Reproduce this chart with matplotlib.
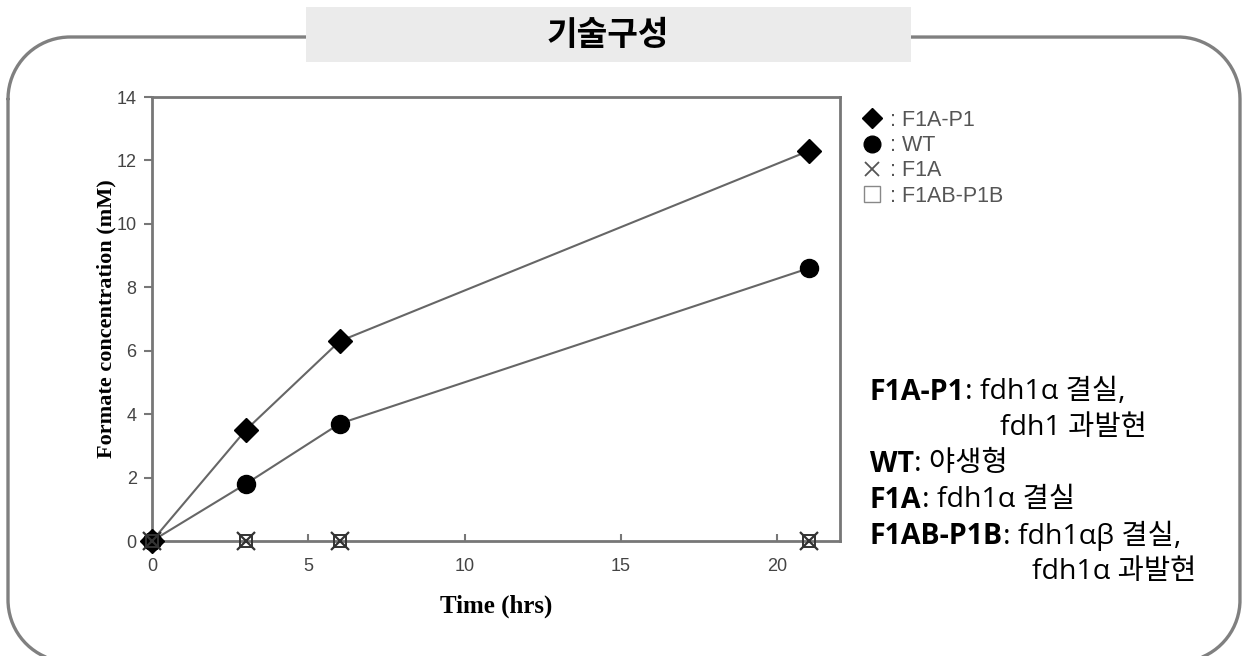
import matplotlib
matplotlib.use("Agg")
import matplotlib.pyplot as plt
import numpy as np
from matplotlib.lines import Line2D
from matplotlib.patches import Rectangle

# data
time_hrs = [0, 3, 6, 21]
f1a_p1 = [0, 3.5, 6.3, 12.3]
wt = [0, 1.8, 3.7, 8.6]
f1a = [0, 0, 0, 0]
f1ab_p1b = [0, 0, 0, 0]

x_ticks = [0, 5, 10, 15, 20]
y_ticks = [0, 2, 4, 6, 8, 10, 12, 14]

legend_labels = [" : F1A-P1", " : WT", " : F1A", " : F1AB-P1B"]

title = "기술구성"
notes = [
    ("F1A-P1", ": fdh1α 결실,"),
    ("", "fdh1 과발현"),
    ("WT", ": 야생형"),
    ("F1A", ": fdh1α 결실"),
    ("F1AB-P1B", ": fdh1αβ 결실,"),
    ("", "fdh1α 과발현"),
]

W, H = 1245, 656
KR = ["Noto Sans CJK KR", "DejaVu Sans"]
NOTE = ["Open Sans", "Noto Sans CJK KR", "DejaVu Sans"]
GRAY = "#777777"
LINE = "#666666"


def rounded_frame(x0, y0, x1, y1, r, n=40):
    # closed polyline of a rounded rectangle (y grows downwards)
    corners = [(x0 + r, y0 + r, 180, 270), (x1 - r, y0 + r, 270, 360),
               (x1 - r, y1 - r, 0, 90), (x0 + r, y1 - r, 90, 180)]
    xs, ys = [], []
    for cx, cy, a0, a1 in corners:
        t = np.radians(np.linspace(a0, a1, n))
        xs.extend(cx + r * np.cos(t))
        ys.extend(cy + r * np.sin(t))
    xs.append(xs[0])
    ys.append(ys[0])
    return xs, ys


fig = plt.figure(figsize=(W / 100, H / 100), dpi=100)

# background decoration in pixel coordinates
bg = fig.add_axes([0, 0, 1, 1])
bg.set_xlim(0, W)
bg.set_ylim(H, 0)
bg.axis("off")
fx, fy = rounded_frame(8, 37, 1240, 662, 62)
bg.plot(fx, fy, color="#808080", lw=2.4, solid_capstyle="round",
        solid_joinstyle="round")
bg.add_patch(Rectangle((306, 7), 605, 55, facecolor="#ebebeb",
                       edgecolor="none", zorder=3))
bg.text(608, 36, title, family=KR, fontsize=24, fontweight="bold",
        ha="center", va="center", zorder=4)

# main chart
ax = fig.add_axes([152 / W, 1 - 541 / H, (840 - 152) / W, (541 - 97) / H])
ax.plot(time_hrs, f1a_p1, color=LINE, lw=1.5, marker="D", ms=12,
        mfc="black", mec="black", zorder=4, clip_on=False)
ax.plot(time_hrs, wt, color=LINE, lw=1.5, marker="o", ms=13,
        mfc="black", mec="black", zorder=4, clip_on=False)
ax.plot(time_hrs, f1a, ls="none", marker="x", ms=13, mew=1.6,
        color="#333333", zorder=5, clip_on=False)
ax.plot(time_hrs, f1ab_p1b, ls="none", marker="s", ms=8, mew=1.4,
        mfc="none", mec="#333333", zorder=5, clip_on=False)

ax.set_xlim(0, 22)
ax.set_ylim(0, 14)
ax.set_xticks(x_ticks)
ax.set_yticks(y_ticks)
for s in ax.spines.values():
    s.set_color(GRAY)
    s.set_linewidth(2)
ax.tick_params(axis="y", direction="out", length=6, width=1.5, color=GRAY,
               labelsize=13, labelcolor="#444444", pad=5)
ax.tick_params(axis="x", direction="in", length=5, width=1.5, color=GRAY,
               labelsize=13, labelcolor="#444444", pad=12)
for lab in ax.get_xticklabels() + ax.get_yticklabels():
    lab.set_family("Liberation Sans")

ax.set_xlabel("Time (hrs)", family="Liberation Serif", fontweight="bold",
              fontsize=18, labelpad=14)
ax.set_ylabel("Formate concentration (mM)", family="Liberation Serif",
              fontweight="bold", fontsize=16)
ax.yaxis.set_label_coords(-0.052, 0.5)

handles = [
    Line2D([], [], ls="none", marker="D", ms=10, color="black"),
    Line2D([], [], ls="none", marker="o", ms=12, color="black"),
    Line2D([], [], ls="none", marker="x", ms=10, mew=1.3, color="#555555"),
    Line2D([], [], ls="none", marker="s", ms=12, mew=1, mfc="none",
           mec="#888888"),
]
leg = fig.legend(handles, legend_labels, loc="upper left",
                 bbox_to_anchor=(850 / W, 1 - 99 / H), frameon=False,
                 handlelength=1.0, handletextpad=0.1, labelspacing=0.2,
                 borderpad=0, prop={"family": "Liberation Sans", "size": 15.5})
for t in leg.get_texts():
    t.set_color("#555555")

# notes on the right
y0, dy = 392, 36
x0 = 870
for i, (bold, rest) in enumerate(notes):
    y = y0 + i * dy
    if bold:
        b = bg.text(x0, y, bold, family=NOTE, fontsize=20.5, fontweight="bold",
                    va="center", ha="left")
        bg.annotate(rest, xy=(1, 0.5), xycoords=b, va="center", ha="left",
                    family=NOTE, fontsize=20.5)
    else:
        indent = 1000 if i == 1 else 1032
        bg.text(indent, y, rest, family=NOTE, fontsize=20.5, va="center",
                ha="left")

fig.savefig("out.png", dpi=100)
